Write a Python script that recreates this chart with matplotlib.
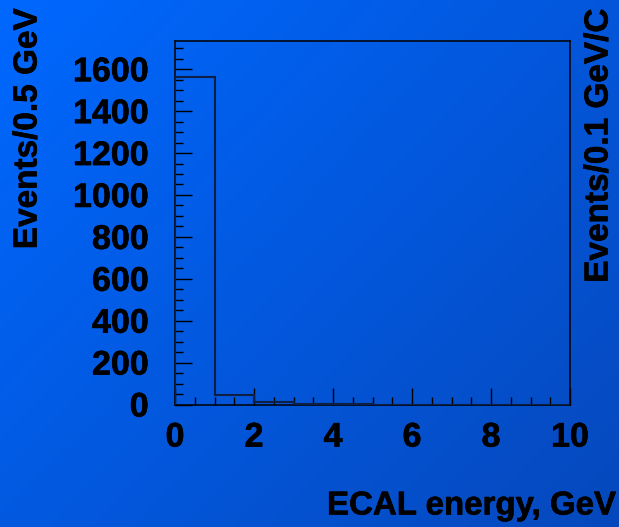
import numpy as np
import matplotlib
matplotlib.use("Agg")
import matplotlib.pyplot as plt
import matplotlib.patheffects as pe
from matplotlib.ticker import MultipleLocator, FixedLocator

# Data
bin_edges = [0, 1, 2, 3, 4, 5, 6, 7, 8, 9, 10]
counts = [1564, 44, 10, 2, 1, 0, 0, 0, 0, 0]
y_ticks = [0, 200, 400, 600, 800, 1000, 1200, 1400, 1600]
x_ticks = [0, 2, 4, 6, 8, 10]
x_label = "ECAL energy, GeV"
y_label = "Events/0.5 GeV"
y2_label = "Events/0.1 GeV/C"

W, H = 619, 527
fig = plt.figure(figsize=(W / 100, H / 100), dpi=100)

# background gradient
bg = fig.add_axes([0, 0, 1, 1], zorder=-10)
xx, yy = np.meshgrid(np.linspace(0, 1, 300), np.linspace(0, 1, 260))
t = (xx * 0.55 + yy * 0.45)
c0 = np.array([0, 104, 255]) / 255
c1 = np.array([6, 72, 188]) / 255
img = c0[None, None, :] * (1 - t[..., None]) + c1[None, None, :] * t[..., None]
bg.imshow(img, aspect="auto", extent=[0, 1, 0, 1], origin="upper")
bg.set_axis_off()

font = "Liberation Sans"
stroke = [pe.withStroke(linewidth=0.45, foreground="black")]
ax = fig.add_axes([175 / W, 1 - 404.5 / H, (570 - 175) / W, (404.5 - 40.5) / H])
ax.set_facecolor("none")
ax.stairs(counts, bin_edges, color="#0d1f45", lw=1.5, zorder=3)
ax.set_xlim(0, 10)
ax.set_ylim(0, 1737)

ax.xaxis.set_major_locator(FixedLocator(x_ticks))
ax.xaxis.set_minor_locator(MultipleLocator(0.5))
ax.yaxis.set_major_locator(FixedLocator(y_ticks))
ax.yaxis.set_minor_locator(MultipleLocator(50))
ax.tick_params(which="both", direction="in", top=False, right=False, color="black", width=1.0)
ax.tick_params(which="major", length=12.2)
ax.tick_params(which="minor", length=6.0)
ax.tick_params(axis="y", which="major", pad=19)
ax.tick_params(axis="x", which="major", pad=13)
for lab in ax.get_yticklabels():
    lab.set_fontfamily(font); lab.set_fontweight("bold"); lab.set_fontsize(24.5)
    lab.set_path_effects(stroke)
for lab in ax.get_xticklabels():
    lab.set_fontfamily(font); lab.set_fontweight("bold"); lab.set_fontsize(24.5)
    lab.set_path_effects(stroke)
for s in ax.spines.values():
    s.set_linewidth(1.1)
    s.set_color("black")

fig.text(327 / W, 1 - 506 / H, x_label, fontfamily=font, fontweight="bold",
         fontsize=23.8, ha="left", va="center", path_effects=stroke)
fig.text(28 / W, 1 - 128.5 / H, y_label, fontfamily=font, fontweight="bold",
         fontsize=24, rotation=90, ha="center", va="center", path_effects=stroke)
fig.text(599 / W, 1 - 145.5 / H, y2_label, fontfamily=font, fontweight="bold",
         fontsize=24, rotation=90, ha="center", va="center", path_effects=stroke)

fig.savefig("out.png", dpi=100)
